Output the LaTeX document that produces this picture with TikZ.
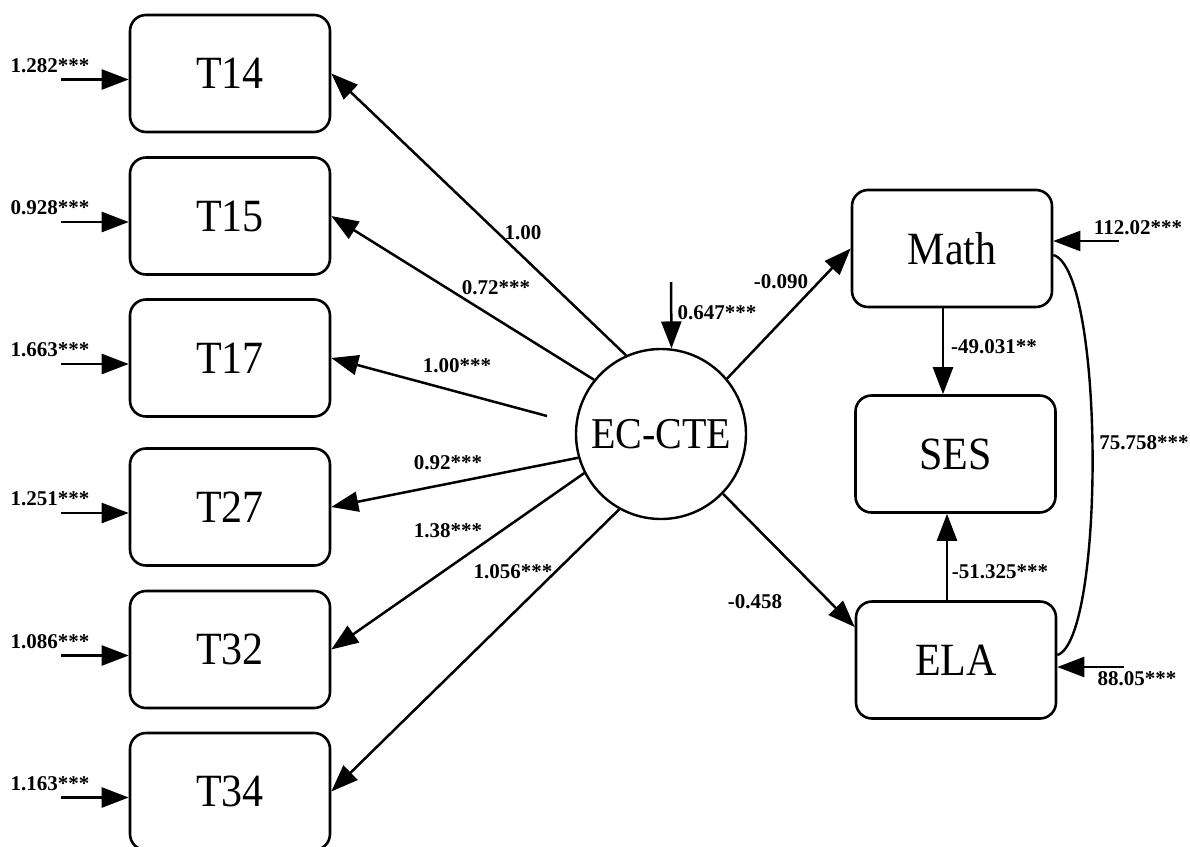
\documentclass[tikz,border=0pt]{standalone}
\usepackage{fontspec}
\usepackage{graphicx}
\setmainfont{Liberation Serif}
\usetikzlibrary{arrows.meta,calc}

% slightly tall lettering for the variable names
\newcommand\tallname[1]{\scalebox{1}[1.1]{#1}}

\tikzset{
  obs/.style={draw, line width=2.6pt, rounded corners=16pt, minimum width=200pt,
    minimum height=117pt, inner sep=0pt, font=\fontsize{42}{50}\selectfont},
  lat/.style={draw, circle, line width=2.4pt, minimum size=170pt, inner sep=0pt,
    font=\fontsize{40}{48}\selectfont},
  arr/.style={line width=2.5pt, -{Triangle[length=27pt,width=20pt]}},
  est/.style={font=\bfseries\fontsize{21}{24}\selectfont, inner sep=0pt},
}

\begin{document}
\begin{tikzpicture}[x=1pt,y=-1pt]
\useasboundingbox (0,0) rectangle (1190,846);

% indicators with their error terms
\foreach \n/\y/\e in {T14/73.5/1.282, T15/216/0.928, T17/358/1.663,
                      T27/507/1.251, T32/649.5/1.086, T34/791.5/1.163}{
  \node[obs] (\n) at (230,\y) {\tallname{\n}};
  \coordinate (e\n) at (61,{\y+6});
  \draw[arr] (e\n) -- (e\n -| \n.west);
  \node[est] (l\n) at (50,{\y-8}) {\e***};
}

% latent factor
\node[lat] (ec) at (661,434) {\tallname{EC-CTE}};

% outcome boxes
\node[obs] (Math) at (952,248.5) {\tallname{Math}};
\node[obs] (SES) at (955.5,454) {\tallname{SES}};
\node[obs] (ELA) at (956,660) {\tallname{ELA}};

% factor loadings
\draw[arr] (ec.114.4) -- (T14.east);
\draw[arr] (ec.141.1) -- (T15.east);
\coordinate (t17tail) at (547,416);
\draw[arr] (t17tail) -- (T17.east);
\draw[arr] (ec.196.6) -- (T27.east);
\draw[arr] (ec.207.1) -- (T32.east);
\draw[arr] (ec.241) -- (T34.east);

\node[est] (lo14) at (523,233) {1.00};
\node[est] (lo15) at (496,288) {0.72***};
\node[est] (lo17) at (457,366) {1.00***};
\node[est] (lo27) at (448,463) {0.92***};
\node[est] (lo32) at (448,531) {1.38***};
\node[est] (lo34) at (513,572) {1.056***};

% factor disturbance
\coordinate (eEC) at (671,282);
\draw[arr] (eEC) -- (ec.83);
\node[est] (lEC) at (717,313) {0.647***};

% structural paths
\draw[arr] (ec.40.5) -- (Math.west);
\draw[arr] (ec.316.4) -- ([yshift=33pt]ELA.west);
\node[est] (lm) at (781,282) {-0.090};
\node[est] (le) at (755,602) {-0.458};

\draw[arr] ([xshift=-9pt]Math.south) -- ([xshift=-9pt]Math.south |- SES.north);
\draw[arr] ([xshift=-9pt]ELA.north) -- ([xshift=-9pt]ELA.north |- SES.south);
\node[est] (lms) at (994,347) {-49.031**};
\node[est] (les) at (1000,572) {-51.325***};

% residuals of the outcomes
\coordinate (eMath) at (1119,241);
\draw[arr] (eMath) -- (eMath -| Math.east);
\node[est] (lMath) at (1138,228) {112.02***};
\coordinate (eELA) at (1124,667);
\draw[arr] (eELA) -- (eELA -| ELA.east);
\node[est] (lELA) at (1137,679) {88.05***};

% residual covariance
\draw[line width=2.4pt] ([yshift=-6.5pt]Math.east) .. controls (1105,270) and (1105,640) .. ([yshift=5pt]ELA.east);
\node[est] (lcov) at (1144,443) {75.758***};
\end{tikzpicture}
\end{document}
